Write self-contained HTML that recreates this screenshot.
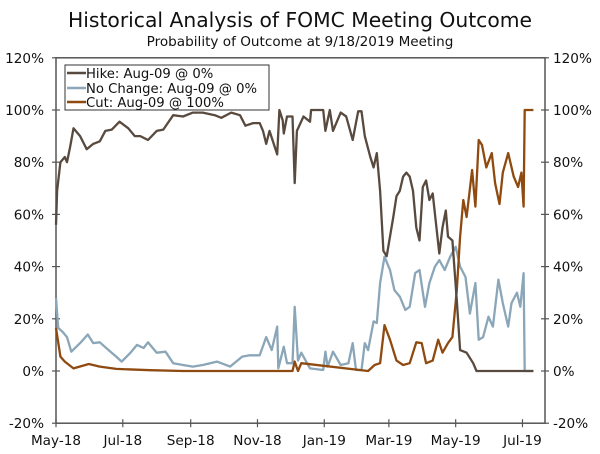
<!DOCTYPE html>
<html><head><meta charset="utf-8">
<style>
body{margin:0;background:#fff;}
svg{display:block;font-family:"DejaVu Sans","Liberation Sans",sans-serif;}
</style></head>
<body>
<svg id="chart" width="600" height="454" viewBox="0 0 600 454">
<text x="300" y="27" text-anchor="middle" font-size="20.3" fill="#111">Historical Analysis of FOMC Meeting Outcome</text>
<text x="300" y="46" text-anchor="middle" font-size="13.6" fill="#111">Probability of Outcome at 9/18/2019 Meeting</text>
<g id="axes"></g>
<g id="series"></g>
<g id="legend">
<rect x="65" y="65" width="204" height="45" fill="#fff" stroke="#333" stroke-width="1"/>
<g><line x1="67" y1="73" x2="86" y2="73" stroke="#594a3f" stroke-width="2.5"/><text x="86" y="78" font-size="13.2" fill="#111">Hike: Aug-09 @ 0%</text></g>
<g><line x1="67" y1="88" x2="86" y2="88" stroke="#8aa6b8" stroke-width="2.5"/><text x="86" y="93" font-size="13.2" fill="#111">No Change: Aug-09 @ 0%</text></g>
<g><line x1="67" y1="102" x2="86" y2="102" stroke="#8f4a10" stroke-width="2.5"/><text x="86" y="107" font-size="13.2" fill="#111">Cut: Aug-09 @ 100%</text></g>
</g>
</svg>
<script>
const yTicks=[-20,0,20,40,60,80,100,120];
const xTickLabels=["May-18","Jul-18","Sep-18","Nov-18","Jan-19","Mar-19","May-19","Jul-19"];
const xTickDays=[0,61,123,184,245,304,365,426];
const hikeDays=[0,1,4,8,10,13,16,22,28,34,40,45,51,58,66,72,77,84,92,98,107,116,125,134,145,151,160,168,173,180,186,189,192,195,202,204,207,208,211,216,218,220,226,232,233,244,246,250,253,260,265,271,276,279,282,287,290,293,296,299,302,305,308,311,314,317,320,323,326,329,332,335,338,341,344,347,350,353,356,358,362,366,369,375,381,384,436];
const hikeVals=[56,69,80,82,80,86,93,90,85,87,88,92,92.5,95.5,93,90,90,88.5,92,92.5,98,97.5,99,99,98,97,99,98,94,95,95,92,87,92,83,100,96,91,97.5,97.5,72,92,97.5,95.5,100,100,92,100,92,99,97.5,88.5,99.5,99.5,90,82,78,83.5,69,46,44,51.5,59,67,69,74.5,76,74.5,69,55,50,70.5,73,65.5,68,56.5,45,55,61.5,51.5,50,27,8,7,3,0,0];
const noChangeDays=[0,2,6,10,14,22,29,34,40,48,55,60,68,74,80,84,92,100,107,116,125,134,147,159,170,177,186,192,197,202,203,208,211,216,218,221,224,232,244,246,248,253,260,267,271,274,279,282,285,290,293,296,300,305,309,314,319,323,328,332,337,341,346,350,355,360,365,369,374,378,383,386,390,395,399,404,408,413,416,421,424,427,428,436];
const noChangeVals=[28,16.5,15,13,7.4,10.7,14,10.7,11,8,5.5,3.6,7,10,8.8,11,7,7.4,3,2.3,1.7,2.3,3.6,1.7,5.5,6,6,13,8,17,1,9.3,3,3,24.6,4,7,1,0.4,7.4,1.7,7.4,2.3,3,10.7,0.4,0.4,10.7,8,19,18.4,33.7,43.8,38.7,31,28.5,23.4,24.6,37.5,38.7,24.6,33.7,40,42.5,38.7,43.8,47.6,40,36,22,33.7,12,13,20.8,17,35,26,17,26,30,24.6,37.5,0,0];
const cutDays=[0,4,8,16,30,40,55,86,116,216,218,221,224,285,291,296,300,305,311,317,323,329,334,338,344,349,353,358,362,366,369,372,375,380,383,386,389,393,398,401,405,408,413,418,422,425,427,428,436];
const cutVals=[16.5,5.5,3.6,1,2.7,1.7,0.8,0.3,0,0,3.6,0,3,0,2.3,3,17.6,12,4,2.3,3,11,10.7,3,4,12,7,10.7,13,31,51.5,65.5,59,77,63,88.5,86.6,78,83.5,72,64,76,83.5,74.5,70.5,76,63,100,100];

const NS="http://www.w3.org/2000/svg";
const X0=56,X1=545,Y0=423.2,Y1=57.8,PXD=1.095;
function xs(d){return X0+d*PXD;}
function ys(v){return Y0-(v+20)/140*(Y0-Y1);}
function mk(tag,attrs,parent){const e=document.createElementNS(NS,tag);for(const k in attrs)e.setAttribute(k,attrs[k]);parent.appendChild(e);return e;}
const axes=document.getElementById('axes');
const ax="#555";
let f=mk('rect',{x:X0,y:Y1,width:X1-X0,height:Y0-Y1,fill:'none',stroke:ax,'stroke-width':1.5},axes);


yTicks.forEach(v=>{
  const y=ys(v);
  mk('line',{x1:X0-4,x2:X0+4,y1:y,y2:y,stroke:ax,'stroke-width':1.2},axes);
  mk('line',{x1:X1-4,x2:X1+4,y1:y,y2:y,stroke:ax,'stroke-width':1.2},axes);
  const t=mk('text',{x:X0-12,y:y+5,'text-anchor':'end','font-size':13.6,fill:'#111'},axes);
  t.textContent=v+'%';
  
  
  const t2=mk('text',{x:X1+8,y:y+5,'text-anchor':'start','font-size':13.6,fill:'#111'},axes);
  t2.textContent=v+'%';
  
  
});
xTickDays.forEach((d,i)=>{
  const x=xs(d);
  mk('line',{x1:x,x2:x,y1:Y0-4,y2:Y0+4,stroke:ax,'stroke-width':1.2},axes);
  const t=mk('text',{x:x,y:Y0+22,'text-anchor':'middle','font-size':13.6,fill:'#111'},axes);
  t.textContent=xTickLabels[i];
  
  
});
const sg=document.getElementById('series');
function line(days,vals,color,name){
  const pts=days.map((d,i)=>xs(d).toFixed(1)+','+ys(vals[i]).toFixed(1)).join(' ');
  const p=mk('polyline',{points:pts,fill:'none',stroke:color,'stroke-width':2.3,'stroke-linejoin':'round'},sg);
  
  
}
line(noChangeDays,noChangeVals,'#8aa6b8','no-change-line');
line(cutDays,cutVals,'#8f4a10','cut-line');
line(hikeDays,hikeVals,'#594a3f','hike-line');
</script>
</body></html>
